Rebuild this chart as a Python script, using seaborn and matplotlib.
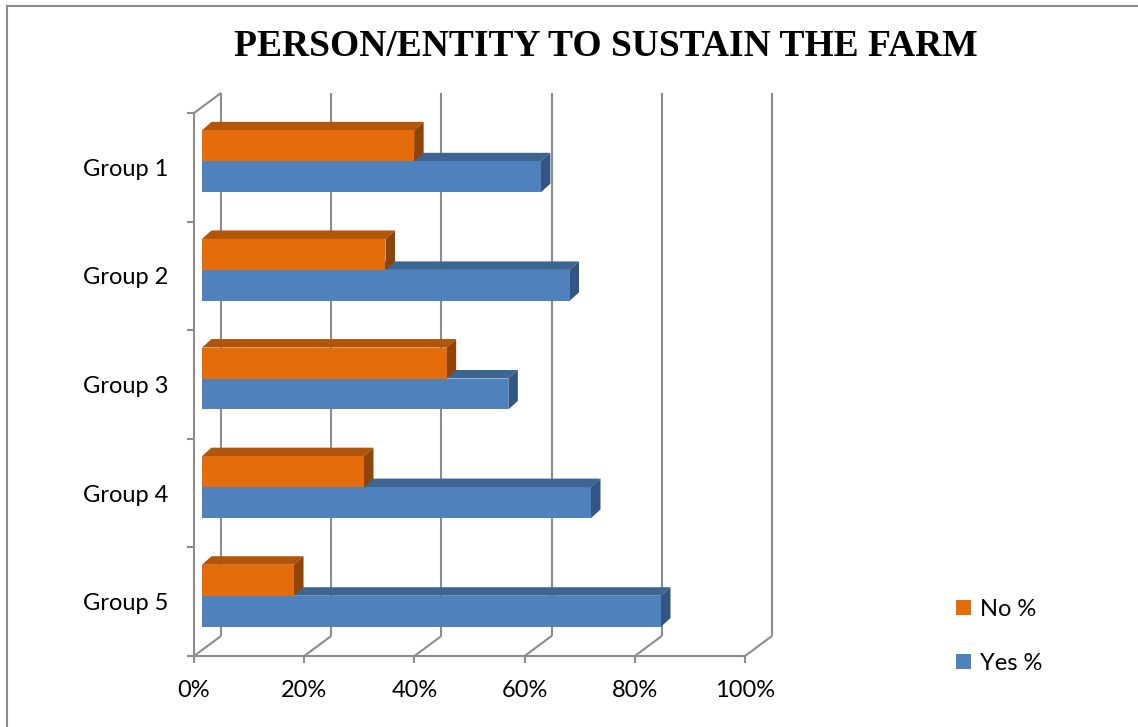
import matplotlib
matplotlib.use("Agg")
import matplotlib.pyplot as plt
from matplotlib.patches import Polygon, Rectangle
import seaborn as sns
import pandas as pd

# Survey shares per group
groups = ["Group 1", "Group 2", "Group 3", "Group 4", "Group 5"]
no_pct = [38.5, 33.3, 44.4, 29.4, 16.7]
yes_pct = [61.5, 66.7, 55.6, 70.6, 83.3]
series = ["No %", "Yes %"]
x_ticks = [0, 20, 40, 60, 80, 100]
x_tick_labels = ["0%", "20%", "40%", "60%", "80%", "100%"]
title = "PERSON/ENTITY TO SUSTAIN THE FARM"

front_colors = {"No %": "#E46C0A", "Yes %": "#4F81BD"}
top_colors = {"No %": "#B25509", "Yes %": "#3D6592"}
side_colors = {"No %": "#8F4507", "Yes %": "#335583"}
grid_color = "#8C8C8C"

df = pd.DataFrame({
    "group": groups * 2,
    "series": [series[0]] * len(groups) + [series[1]] * len(groups),
    "value": no_pct + yes_pct,
})

sns.set_style("white")
plt.rcParams["font.family"] = ["Lato", "DejaVu Sans"]
plt.rcParams["text.color"] = "black"

W, H = 1138, 727
fig = plt.figure(figsize=(W / 100, H / 100), dpi=100)
# axes spans the front plane of the 3-D box
ax = fig.add_axes([194 / W, 1 - 656 / H, 551 / W, 543 / H])

sns.barplot(data=df, y="group", x="value", hue="series", hue_order=series,
            order=groups, palette=front_colors, orient="h", width=0.57,
            linewidth=0, saturation=1, ax=ax)

ax.set_xlim(0, 100)
ax.set_ylim(len(groups) - 0.5, -0.5)
for s in ax.spines.values():
    s.set_visible(False)

px_x = 551 / 100.0          # pixels per percent
px_y = 543 / len(groups)    # pixels per category band
# wall depth, bar position in depth, and bar thickness (in data units)
wall_dx, wall_dy = 27 / px_x, 20 / px_y
bar_sx, bar_sy = 8 / px_x, 6 / px_y
bar_dx, bar_dy = 9.5 / px_x, 8.5 / px_y

y_top, y_bot = -0.5, len(groups) - 0.5
line_kw = dict(color=grid_color, lw=1.5, clip_on=False, solid_capstyle="butt")

# back wall gridlines and floor diagonals
for v in x_ticks:
    ax.plot([v + wall_dx, v + wall_dx], [y_top - wall_dy, y_bot - wall_dy], zorder=1, **line_kw)
    ax.plot([v, v + wall_dx], [y_bot, y_bot - wall_dy], zorder=1, **line_kw)
    ax.plot([v, v], [y_bot, y_bot + 7 / px_y], zorder=1, **line_kw)
# front floor edge and left wall edge
ax.plot([0, 100], [y_bot, y_bot], zorder=1, **line_kw)
ax.plot([0, 0], [y_top, y_bot], zorder=1, **line_kw)
ax.plot([0, wall_dx], [y_top, y_top - wall_dy], zorder=1, **line_kw)
for i in range(len(groups) + 1):
    yb = y_top + i
    ax.plot([-7 / px_x, 0], [yb, yb], zorder=1, **line_kw)

# 3-D faces for each bar
for container, name in zip(ax.containers, series):
    z = 3 if name == "No %" else 2
    for rect in container:
        x0 = rect.get_x() + bar_sx
        y0 = rect.get_y() - bar_sy
        w, h = rect.get_width(), rect.get_height()
        rect.set_x(x0)
        rect.set_y(y0)
        rect.set_zorder(z + 0.5)
        rect.set_clip_on(False)
        top = Polygon([(x0, y0), (x0 + w, y0), (x0 + w + bar_dx, y0 - bar_dy),
                       (x0 + bar_dx, y0 - bar_dy)], closed=True,
                      facecolor=top_colors[name], edgecolor="none",
                      zorder=z, clip_on=False)
        side = Polygon([(x0 + w, y0), (x0 + w + bar_dx, y0 - bar_dy),
                        (x0 + w + bar_dx, y0 + h - bar_dy), (x0 + w, y0 + h)],
                       closed=True, facecolor=side_colors[name],
                       edgecolor="none", zorder=z, clip_on=False)
        ax.add_patch(top)
        ax.add_patch(side)

ax.set_xticks(x_ticks)
ax.set_xticklabels(x_tick_labels)
ax.tick_params(axis="both", length=0, labelsize=17, labelcolor="black")
ax.tick_params(axis="x", pad=17)
ax.tick_params(axis="y", pad=18.5)
ax.set_xlabel("")
ax.set_ylabel("")

sns.move_legend(ax, loc="upper left", bbox_to_anchor=(956 / W, 1 - 599 / H),
                bbox_transform=fig.transFigure, frameon=False, title=None,
                fontsize=17, labelspacing=1.4, handlelength=0.62,
                handleheight=0.62, handletextpad=0.4, borderpad=0,
                borderaxespad=0)

fig.text(606 / W, 1 - 46 / H, title, ha="center", va="center", color="black",
         fontsize=27, fontweight="bold", family=["Liberation Serif"])

# chart area border
fig.patches.append(Rectangle((7 / W, -0.5), 1.5, 1 - 6 / H + 0.5,
                             transform=fig.transFigure, fill=False,
                             edgecolor="#8C8C8C", lw=1.5))

fig.savefig("out.png", dpi=100, facecolor="white")
